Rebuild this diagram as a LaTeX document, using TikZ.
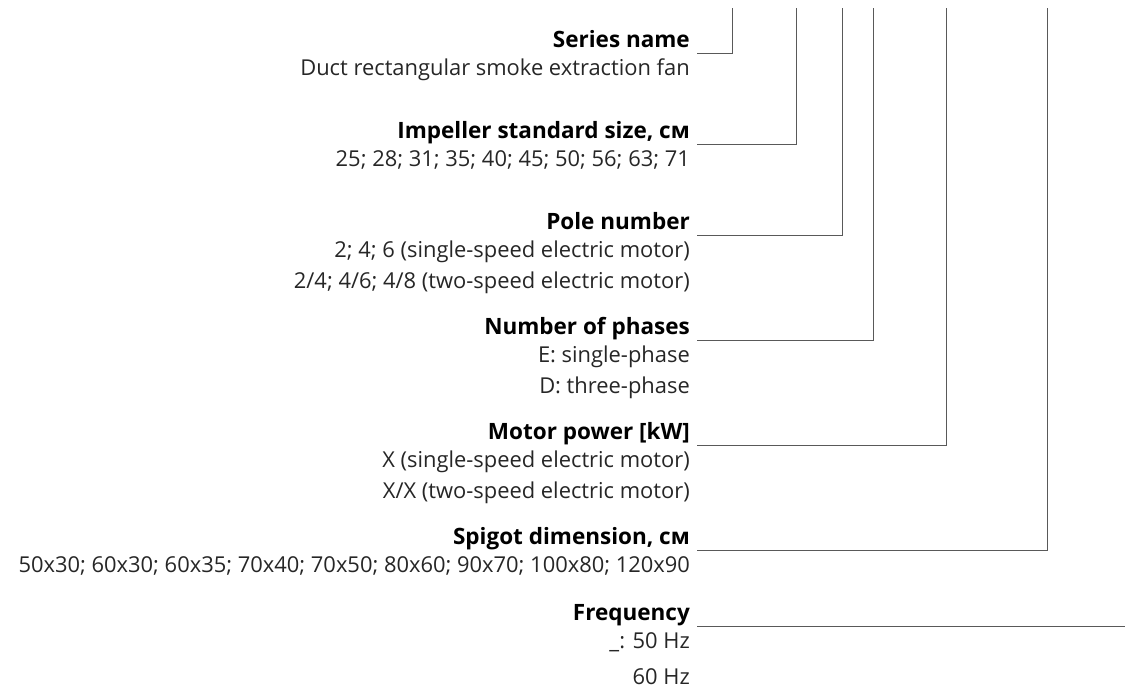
\documentclass[tikz,border=0pt]{standalone}
\usepackage{fontspec}
\setmainfont{Open Sans}
\begin{document}
\begin{tikzpicture}[x=1pt,y=-1pt,
	title/.style={anchor=base east,inner sep=0pt,font=\fontsize{22.5}{26}\selectfont\bfseries},
	info/.style={anchor=base east,inner sep=0pt,font=\fontsize{21.9}{26}\selectfont,text=black!85},
	lead/.style={draw=black!65,line width=1pt}]
		\useasboundingbox (0,0) rectangle (1125,689);
		% upper ends of the leads
		\coordinate (tSeries) at (732,8);
		\coordinate (tSize) at (796,8);
		\coordinate (tPole) at (842,8);
		\coordinate (tPhase) at (873,8);
		\coordinate (tPower) at (946,8);
		\coordinate (tSpigot) at (1047,8);
		\coordinate (rFreq) at (1125,626);

		\node[title] (series) at (690,47) {Series name};
		\node[info] (seriesA) at (690,75) {Duct rectangular smoke extraction fan};

		\node[title] (size) at (690,138) {Impeller standard size, см};
		\node[info] (sizeA) at (690,166) {25; 28; 31; 35; 40; 45; 50; 56; 63; 71};

		\node[title] (pole) at (690,229) {Pole number};
		\node[info] (poleA) at (690,257) {2; 4; 6 (single-speed electric motor)};
		\node[info] (poleB) at (690,288) {2/4; 4/6; 4/8 (two-speed electric motor)};

		\node[title] (phase) at (690,334) {Number of phases};
		\node[info] (phaseA) at (690,362) {E: single-phase};
		\node[info] (phaseB) at (690,393) {D: three-phase};

		\node[title] (power) at (690,439) {Motor power [kW]};
		\node[info] (powerA) at (690,467) {X (single-speed electric motor)};
		\node[info] (powerB) at (690,498) {X/X (two-speed electric motor)};

		\node[title] (spigot) at (690,544) {Spigot dimension, см};
		\node[info] (spigotA) at (690,572) {50x30; 60x30; 60x35; 70x40; 70x50; 80x60; 90x70; 100x80; 120x90};

		\node[title] (freq) at (690,620) {Frequency};
		\node[info] (freqA) at (690,648) {\_: 50 Hz};
		\node[info] (freqB) at (690,684) {60 Hz};

		\draw[lead] ([xshift=7pt,yshift=-6pt]series.base east) -| (tSeries);
		\draw[lead] ([xshift=7pt,yshift=-6pt]size.base east) -| (tSize);
		\draw[lead] ([xshift=7pt,yshift=-6pt]pole.base east) -| (tPole);
		\draw[lead] ([xshift=7pt,yshift=-6pt]phase.base east) -| (tPhase);
		\draw[lead] ([xshift=7pt,yshift=-6pt]power.base east) -| (tPower);
		\draw[lead] ([xshift=7pt,yshift=-6pt]spigot.base east) -| (tSpigot);
		\draw[lead] ([xshift=7pt,yshift=-6pt]freq.base east) -- (rFreq);
\end{tikzpicture}
\end{document}
